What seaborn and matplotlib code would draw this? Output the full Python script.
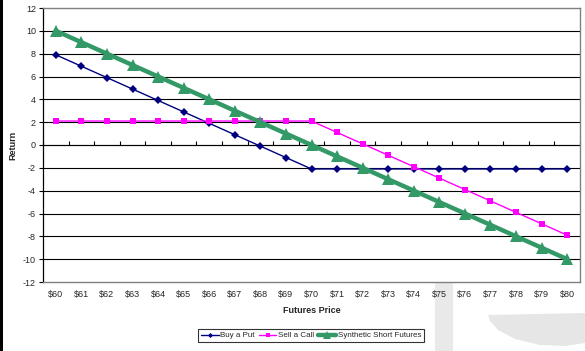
import matplotlib
matplotlib.use("Agg")
import matplotlib.pyplot as plt
import matplotlib.patches as mpatches
import numpy as np
import pandas as pd
import seaborn as sns

# Payoff profiles (strike $70, option premium about $2.10)
prices = ["$60", "$61", "$62", "$63", "$64", "$65", "$66", "$67", "$68", "$69", "$70",
          "$71", "$72", "$73", "$74", "$75", "$76", "$77", "$78", "$79", "$80"]
buy_put = [7.9, 6.9, 5.9, 4.9, 3.9, 2.9, 1.9, 0.9, -0.1, -1.1, -2.1,
           -2.1, -2.1, -2.1, -2.1, -2.1, -2.1, -2.1, -2.1, -2.1, -2.1]
sell_call = [2.1, 2.1, 2.1, 2.1, 2.1, 2.1, 2.1, 2.1, 2.1, 2.1, 2.1,
             1.1, 0.1, -0.9, -1.9, -2.9, -3.9, -4.9, -5.9, -6.9, -7.9]
synthetic = [10, 9, 8, 7, 6, 5, 4, 3, 2, 1, 0,
             -1, -2, -3, -4, -5, -6, -7, -8, -9, -10]
y_ticks = list(range(-12, 13, 2))

sns.set_style("white")
plt.rcParams["font.family"] = ["Liberation Sans", "DejaVu Sans"]

fig = plt.figure(figsize=(5.85, 3.51), dpi=100)
W, H = 585, 351

# faint background decoration below the chart
fig.patches.append(mpatches.Rectangle((435 / W, 0), 18 / W, 68 / H, transform=fig.transFigure,
                                      facecolor="#e9e9e9", edgecolor="none", zorder=-2))
bowl_x = np.array([488, 585, 585, 565, 540, 515, 498, 490]) / W
bowl_y = 1 - np.array([315, 313, 343, 346, 345, 339, 330, 321]) / H
fig.patches.append(mpatches.Polygon(np.column_stack([bowl_x, bowl_y]), closed=True,
                                    transform=fig.transFigure, facecolor="#e6e6e6",
                                    edgecolor="none", zorder=-2))
# dark strip along the left edge
fig.patches.append(mpatches.Rectangle((0, 0), 3 / W, 1, transform=fig.transFigure,
                                      facecolor="black", edgecolor="none", zorder=-2))

ax = fig.add_axes([43 / W, 1 - 282 / H, (580 - 43) / W, (282 - 8) / H])

df = pd.DataFrame({"price": prices, "put": buy_put, "call": sell_call, "syn": synthetic})

sns.lineplot(data=df, x="price", y="put", ax=ax, sort=False, color="#000080",
             linewidth=1.0, marker="D", markersize=4, markeredgewidth=0,
             label="Buy a Put", zorder=3)
sns.lineplot(data=df, x="price", y="call", ax=ax, sort=False, color="#FF00FF",
             linewidth=1.0, marker="s", markersize=5, markeredgewidth=0,
             label="Sell a Call", zorder=4)
sns.lineplot(data=df, x="price", y="syn", ax=ax, sort=False, color="#339966",
             linewidth=3.2, marker="^", markersize=8.5, markeredgewidth=0,
             label="Synthetic Short Futures", zorder=5)

ax.set_xlim(-0.5, len(prices) - 0.5)
ax.set_ylim(-12, 12)
ax.set_yticks(y_ticks)
ax.set_yticklabels([str(v) for v in y_ticks], fontsize=6.5)

# horizontal gridlines
for v in y_ticks[1:-1]:
    ax.axhline(v, color="black", linewidth=0.8, zorder=1)

for s in ["top", "right", "bottom"]:
    ax.spines[s].set_color("#808080")
    ax.spines[s].set_linewidth(1.0)
ax.spines["left"].set_color("black")
ax.spines["left"].set_linewidth(0.9)

ax.tick_params(axis="y", direction="out", length=3, width=0.8, color="black", pad=2, left=True)
ax.tick_params(axis="x", length=0, labelsize=6.5, pad=6)

# category axis crossing at zero, with ticks between categories
sec = ax.secondary_xaxis(0.5)
sec.set_xticks(np.arange(-0.5, len(prices), 1.0))
sec.set_xticklabels([])
sec.tick_params(axis="x", direction="out", length=3, width=0.8, color="black",
                labelbottom=False)
sec.spines["bottom"].set_color("black")
sec.spines["bottom"].set_linewidth(1.0)

ax.set_xlabel("Futures Price", fontsize=6.5, fontweight="bold", labelpad=5)
ax.set_ylabel("Return", fontsize=6.5, fontweight="bold", labelpad=4)

ax.legend_.remove()
handles, labels = ax.get_legend_handles_labels()
leg = fig.legend(handles, labels, loc="center", bbox_to_anchor=(311 / W, 1 - 335.5 / H),
                 ncol=3, fontsize=5.8, frameon=True, fancybox=False, shadow=False,
                 handlelength=2.2, handletextpad=0.2, columnspacing=0.5,
                 markerscale=0.65, borderpad=0.3, borderaxespad=0)
leg.get_frame().set_edgecolor("black")
leg.get_frame().set_linewidth(0.8)

fig.savefig("out.png", dpi=100)
